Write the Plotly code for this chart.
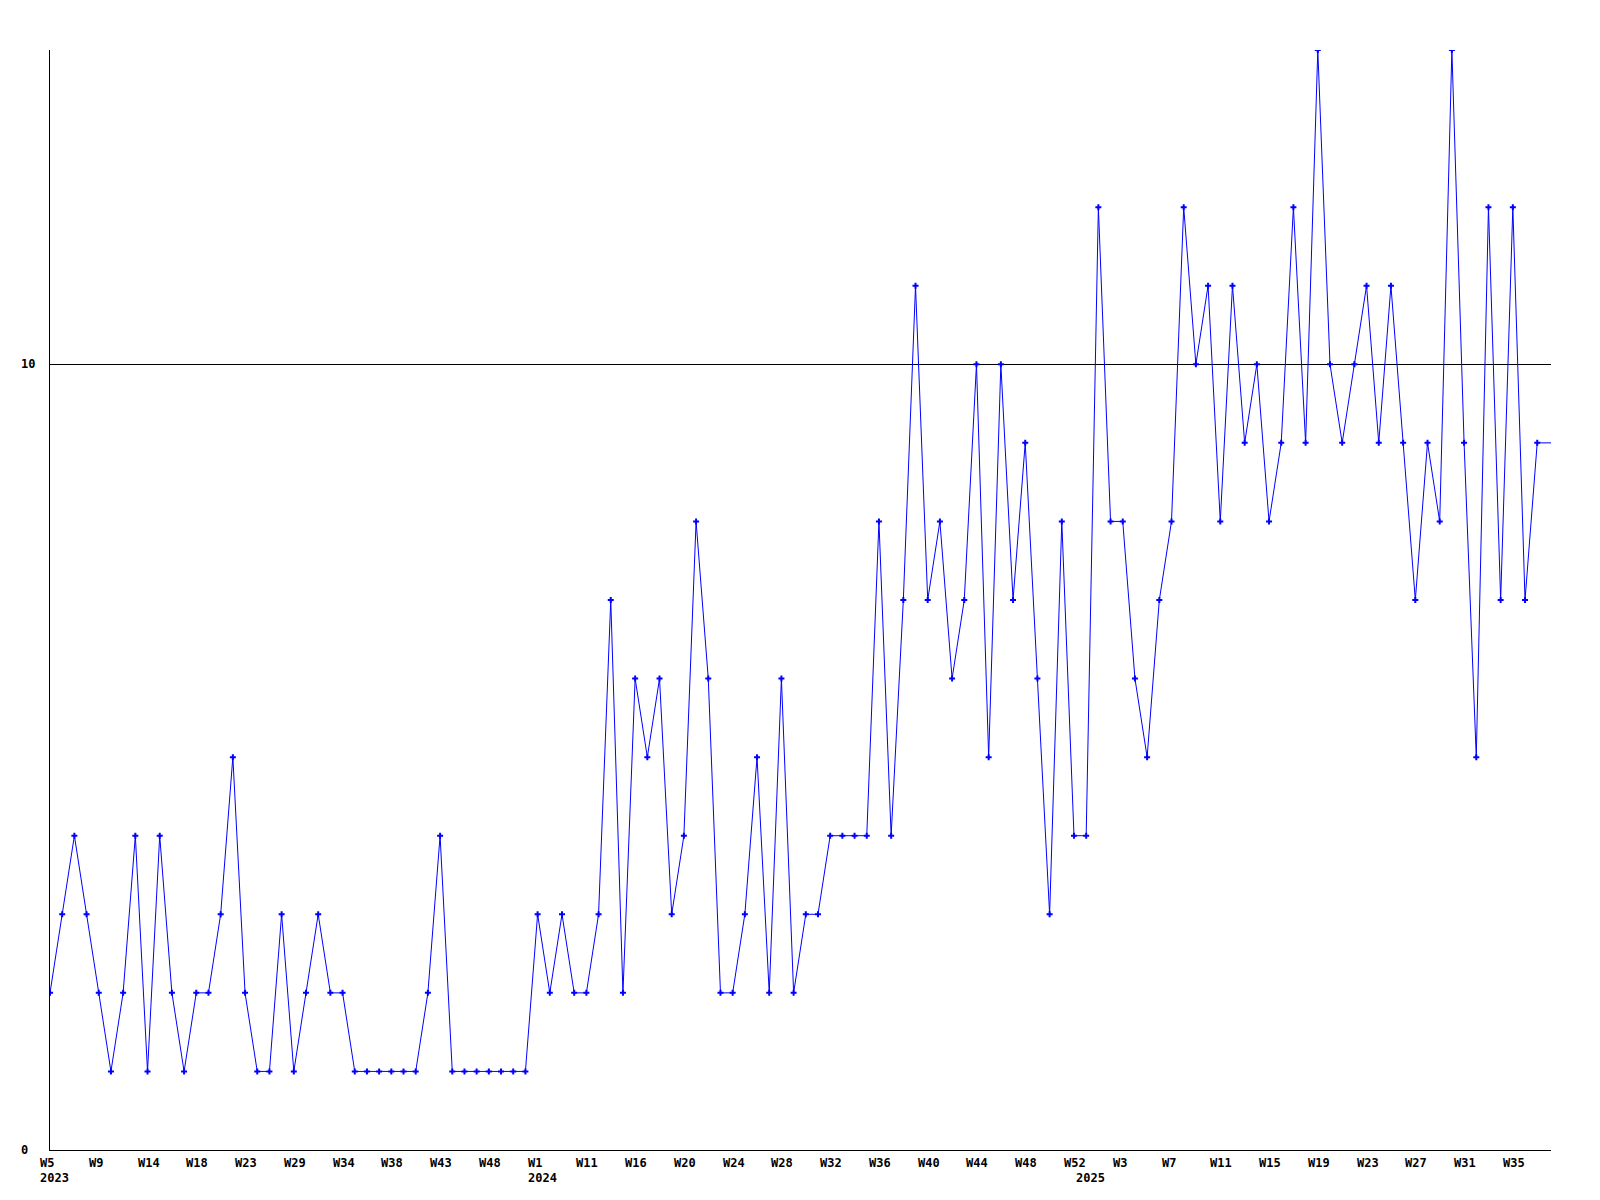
import plotly.graph_objects as go

values = [2, 3, 4, 3, 2, 1, 2, 4, 1, 4,
          2, 1, 2, 2, 3, 5, 2, 1, 1, 3,
          1, 2, 3, 2, 2, 1, 1, 1, 1, 1,
          1, 2, 4, 1, 1, 1, 1, 1, 1, 1,
          3, 2, 3, 2, 2, 3, 7, 2, 6, 5,
          6, 3, 4, 8, 6, 2, 2, 3, 5, 2,
          6, 2, 3, 3, 4, 4, 4, 4, 8, 4,
          7, 11, 7, 8, 6, 7, 10, 5, 10, 7,
          9, 6, 3, 8, 4, 4, 12, 8, 8, 6,
          5, 7, 8, 12, 10, 11, 8, 11, 9, 10,
          8, 9, 12, 9, 14, 10, 9, 10, 11, 9,
          11, 9, 7, 9, 8, 14, 9, 5, 12, 7,
          12, 7, 9]

tick_labels = ["W5", "W9", "W14", "W18", "W23", "W29", "W34", "W38", "W43", "W48",
               "W1", "W11", "W16", "W20", "W24", "W28", "W32", "W36", "W40", "W44",
               "W48", "W52", "W3", "W7", "W11", "W15", "W19", "W23", "W27", "W31", "W35"]
tick_step = 4

year_labels = ["2023", "2024", "2025"]
year_index = [0, 40, 85]

y_ticks = [0, 10]
y_max = 14

x = list(range(len(values)))
x_end = (len(values) - 1) + 1.13  # plot extends a little beyond the last point

FONT = dict(family="DejaVu Sans Mono", size=12, color="black", weight="bold")

fig = go.Figure()
# continuation of last value to the right edge
fig.add_trace(go.Scatter(x=[x[-1], x_end], y=[values[-1], values[-1]], mode="lines",
                         line=dict(color="#0000ff", width=1), hoverinfo="skip", showlegend=False))
fig.add_trace(go.Scatter(x=x, y=values, mode="lines+markers",
                         line=dict(color="#0000ff", width=1),
                         marker=dict(symbol="cross", size=5, color="#0000ff", line=dict(width=0)),
                         showlegend=False))

annotations = []
for i, lab in enumerate(tick_labels):
    annotations.append(dict(x=i * tick_step, y=0, xref="x", yref="paper", text=lab,
                            showarrow=False, xanchor="left", yanchor="top",
                            xshift=-12, yshift=-4, font=FONT))
for lab, idx in zip(year_labels, year_index):
    annotations.append(dict(x=idx, y=0, xref="x", yref="paper", text=lab,
                            showarrow=False, xanchor="left", yanchor="top",
                            xshift=-12, yshift=-19, font=FONT))
for v in y_ticks:
    annotations.append(dict(x=0, y=v, xref="paper", yref="y", text=str(v),
                            showarrow=False, xanchor="left", yanchor="middle",
                            xshift=-31, font=FONT))

fig.update_layout(
    width=1584, height=1184,
    margin=dict(l=42, r=41, t=42, b=42),
    paper_bgcolor="white", plot_bgcolor="white",
    hovermode=False,
    annotations=annotations,
    xaxis=dict(range=[0, x_end], showgrid=False, zeroline=False, showline=True,
               linecolor="black", linewidth=1, showticklabels=False, ticks=""),
    yaxis=dict(range=[0, y_max], tickvals=y_ticks, showgrid=True, gridcolor="black",
               gridwidth=1, zeroline=False, showline=True, linecolor="black", linewidth=1,
               showticklabels=False, ticks=""),
)

fig.write_html("out.html")
